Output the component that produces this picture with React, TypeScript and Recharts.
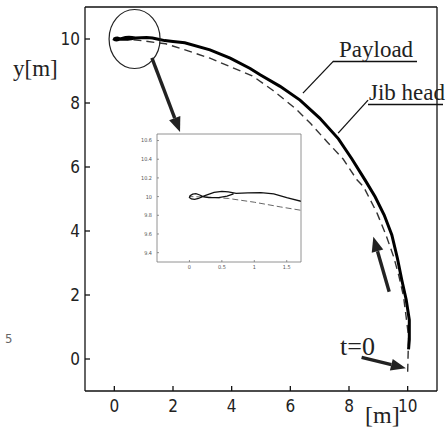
import React from 'react';
import { LineChart, Line, XAxis, YAxis, ReferenceLine, ReferenceDot } from 'recharts';

type Pt = { x: number; y: number };

// payload trajectory (solid), from t=0 at the bottom right to the swing loops near (0, 10)
const payloadPath: Pt[] = [
  { x: 10.03, y: 0.3 }, { x: 10.056, y: 0.6 }, { x: 10.056, y: 1.22 }, { x: 9.95, y: 1.85 },
  { x: 9.8, y: 2.47 }, { x: 9.65, y: 3.15 }, { x: 9.46, y: 3.88 }, { x: 9.2, y: 4.5 },
  { x: 8.89, y: 5.07 }, { x: 8.55, y: 5.59 }, { x: 8.1, y: 6.25 }, { x: 7.64, y: 6.88 },
  { x: 7.0, y: 7.53 }, { x: 6.33, y: 8.09 }, { x: 5.65, y: 8.52 }, { x: 4.97, y: 8.88 },
  { x: 4.63, y: 9.08 }, { x: 3.95, y: 9.4 }, { x: 3.26, y: 9.66 }, { x: 2.4, y: 9.88 },
  { x: 2.0, y: 9.92 }, { x: 1.72, y: 9.95 }, { x: 1.5, y: 9.99 }, { x: 1.3, y: 10.03 },
  { x: 1.1, y: 10.043 }, { x: 0.9, y: 10.04 }, { x: 0.72, y: 10.035 }, { x: 0.6, y: 10.05 },
  { x: 0.5, y: 10.055 }, { x: 0.38, y: 10.045 }, { x: 0.26, y: 10.015 }, { x: 0.2, y: 10.0 },
  { x: 0.14, y: 9.98 }, { x: 0.08, y: 9.97 }, { x: 0.03, y: 9.975 }, { x: 0.0, y: 9.99 },
  { x: 0.01, y: 10.01 }, { x: 0.05, y: 10.027 }, { x: 0.1, y: 10.032 }, { x: 0.15, y: 10.02 },
  { x: 0.22, y: 9.997 }, { x: 0.3, y: 9.99 }, { x: 0.45, y: 9.99 }, { x: 0.58, y: 10.005 },
  { x: 0.68, y: 10.028 },
];

// jib head trajectory (dashed)
const jibHeadPath: Pt[] = [
  { x: 10.0, y: -0.4 }, { x: 10.02, y: 0.3 }, { x: 10.03, y: 0.7 }, { x: 9.95, y: 1.3 },
  { x: 9.86, y: 1.95 }, { x: 9.7, y: 2.6 }, { x: 9.52, y: 3.2 }, { x: 9.25, y: 3.9 },
  { x: 8.96, y: 4.55 }, { x: 8.5, y: 5.38 }, { x: 8.27, y: 5.6 }, { x: 7.8, y: 6.25 },
  { x: 7.25, y: 6.79 }, { x: 6.7, y: 7.35 }, { x: 6.17, y: 7.83 }, { x: 5.4, y: 8.4 },
  { x: 4.7, y: 8.85 }, { x: 3.26, y: 9.4 }, { x: 2.24, y: 9.71 }, { x: 1.75, y: 9.85 },
  { x: 1.4, y: 9.89 }, { x: 1.0, y: 9.94 }, { x: 0.6, y: 9.98 }, { x: 0.3, y: 9.995 },
  { x: 0.0, y: 10.0 },
];

const mainTicks = [0, 2, 4, 6, 8, 10];
const insetXTicks = [0, 0.5, 1, 1.5];
const insetYTicks = [9.4, 9.6, 9.8, 10, 10.2, 10.4, 10.6];

// annotations, in data units of the main axes
const zoomCircle = { x: 0.69, y: 10.0 };
const arrows: Pt[][] = [
  [{ x: 1.28, y: 9.41 }, { x: 2.24, y: 7.09 }],
  [{ x: 9.37, y: 2.1 }, { x: 8.83, y: 3.82 }],
  [{ x: 8.43, y: 0.05 }, { x: 9.94, y: -0.29 }],
];
const leaders: Pt[][] = [
  [{ x: 6.43, y: 8.31 }, { x: 7.47, y: 9.31 }],
  [{ x: 7.63, y: 7.06 }, { x: 8.65, y: 8.09 }],
];

const tickFont = "'Liberation Sans Narrow', 'DejaVu Sans Condensed', 'Arial Narrow', sans-serif";
const serif = "'Liberation Serif', 'Times New Roman', serif";

const ArrowShape = (p: any) => {
  const { x1, y1, x2, y2 } = p;
  const a = Math.atan2(y2 - y1, x2 - x1);
  const len = 15;
  const half = 6;
  const bx = x2 - len * Math.cos(a);
  const by = y2 - len * Math.sin(a);
  const nx = -Math.sin(a) * half;
  const ny = Math.cos(a) * half;
  return (
    <g>
      <line x1={x1} y1={y1} x2={bx} y2={by} stroke="#222" strokeWidth={3.4} />
      <polygon points={`${x2},${y2} ${bx + nx},${by + ny} ${bx - nx},${by - ny}`} fill="#222" />
    </g>
  );
};

const SegShape = (p: any) => (
  <line x1={p.x1} y1={p.y1} x2={p.x2} y2={p.y2} stroke="#111" strokeWidth={1.3} />
);

const EllipseShape = (p: any) => (
  <ellipse cx={p.cx} cy={p.cy} rx={25.5} ry={29.5} fill="none" stroke="#222" strokeWidth={1.2} />
);

export default function App() {
  return (
    <div style={{ position: 'absolute', left: 0, top: 0, width: 448, height: 448, background: '#fff' }}>
      <LineChart width={448} height={448} margin={{ top: 6, right: 10, bottom: 0, left: 0 }}>
        <XAxis
          dataKey="x" type="number" domain={[-1, 11]} ticks={mainTicks} allowDataOverflow height={57}
          tickSize={-5} tickMargin={14} stroke="#111" strokeWidth={1.3}
          tick={{ fontSize: 17, fontFamily: tickFont, fill: '#222' }}
        />
        <XAxis xAxisId="top" orientation="top" type="number" domain={[-1, 11]} ticks={mainTicks}
          allowDataOverflow height={1} tick={false} tickSize={-5} stroke="#111" strokeWidth={1.3} />
        <YAxis
          type="number" domain={[-1, 11]} ticks={mainTicks} allowDataOverflow width={85}
          tickSize={-5} tickMargin={10} stroke="#111" strokeWidth={1.3}
          tick={{ fontSize: 17, fontFamily: tickFont, fill: '#222' }}
        />
        <YAxis yAxisId="right" orientation="right" type="number" domain={[-1, 11]} ticks={mainTicks}
          allowDataOverflow width={1} tick={false} tickSize={-5} stroke="#111" strokeWidth={1.3} />
        <Line data={jibHeadPath} dataKey="y" type="linear" stroke="#333" strokeWidth={1.4}
          strokeDasharray="8 5" dot={false} isAnimationActive={false} />
        <Line data={payloadPath} dataKey="y" type="linear" stroke="#000" strokeWidth={3}
          dot={false} isAnimationActive={false} />
        <ReferenceDot x={zoomCircle.x} y={zoomCircle.y} ifOverflow="visible" shape={EllipseShape} />
        {arrows.map((s, i) => (
          <ReferenceLine key={`a${i}`} segment={s} ifOverflow="visible" shape={ArrowShape} />
        ))}
        {leaders.map((s, i) => (
          <ReferenceLine key={`l${i}`} segment={s} ifOverflow="visible" shape={SegShape} />
        ))}
      </LineChart>

      <div style={{ position: 'absolute', left: 127, top: 127 }}>
        <LineChart width={180} height={150} margin={{ top: 6, right: 5, bottom: 0, left: 0 }}>
          <XAxis
            dataKey="x" type="number" domain={[-0.5, 1.72]} ticks={insetXTicks} allowDataOverflow height={15}
            tickSize={-2} tickMargin={5} stroke="#777" strokeWidth={0.8}
            tick={{ fontSize: 5.5, fontFamily: tickFont, fill: '#555' }}
          />
          <XAxis xAxisId="top" orientation="top" type="number" domain={[-0.5, 1.72]} ticks={insetXTicks}
            allowDataOverflow height={1} tick={false} tickSize={-2} stroke="#777" strokeWidth={0.8} />
          <YAxis
            type="number" domain={[9.3, 10.67]} ticks={insetYTicks} allowDataOverflow width={30}
            tickSize={-2} tickMargin={7} stroke="#777" strokeWidth={0.8}
            tick={{ fontSize: 5.5, fontFamily: tickFont, fill: '#555' }}
          />
          <YAxis yAxisId="right" orientation="right" type="number" domain={[9.3, 10.67]} ticks={insetYTicks}
            allowDataOverflow width={1} tick={false} tickSize={-2} stroke="#777" strokeWidth={0.8} />
          <Line data={jibHeadPath} dataKey="y" type="linear" stroke="#555" strokeWidth={0.9}
            strokeDasharray="6 3" dot={false} isAnimationActive={false} />
          <Line data={payloadPath} dataKey="y" type="linear" stroke="#111" strokeWidth={1.3}
            dot={false} isAnimationActive={false} />
        </LineChart>
      </div>

      <svg width={448} height={448} style={{ position: 'absolute', left: 0, top: 0, pointerEvents: 'none' }}>
        <text x={13} y={76} fontFamily={serif} fontSize={23} fill="#222">y[m]</text>
        <text x={365} y={423} fontFamily={serif} fontSize={24} fill="#222">[m]</text>
        <text x={339} y={57} fontFamily={serif} fontSize={23} fill="#222">Payload</text>
        <line x1={333} y1={61.5} x2={417} y2={61.5} stroke="#111" strokeWidth={1.3} />
        <text x={369} y={100} fontFamily={serif} fontSize={23} fill="#222">Jib head</text>
        <line x1={368} y1={104.5} x2={443} y2={104.5} stroke="#111" strokeWidth={1.3} />
        <text x={340} y={355} fontFamily={serif} fontSize={26} fill="#222">t=0</text>
        <text x={5} y={343} fontFamily={tickFont} fontSize={13} fill="#666">5</text>
      </svg>
    </div>
  );
}
